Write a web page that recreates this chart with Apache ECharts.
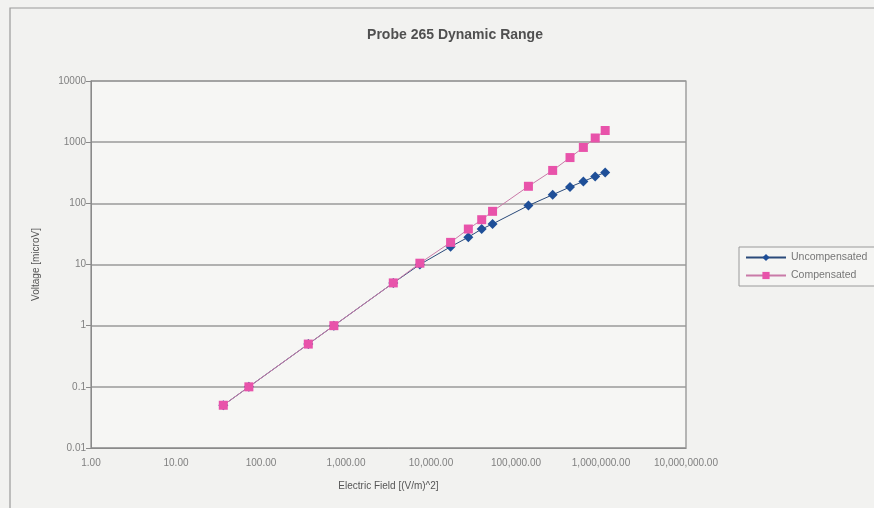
<!DOCTYPE html>
<html>
<head>
<meta charset="utf-8">
<script src="https://cdn.jsdelivr.net/npm/echarts@6/dist/echarts.min.js"></script>
<style>
html,body{margin:0;padding:0;background:#f2f2f0;}
#c{width:874px;height:508px;}
</style>
</head>
<body>
<div id="c"></div>
<script>
// Data
const fieldValues = [36, 72, 360, 720, 3600, 7400, 17000, 27500, 39500, 53000, 140000, 270000, 432000, 620000, 855000, 1120000];
const uncompensated = [0.05, 0.1, 0.5, 1, 5, 10, 19.5, 28, 38, 46, 92, 138, 185, 228, 275, 320];
const compensated = [0.05, 0.1, 0.5, 1, 5, 10.5, 23, 38, 54, 74, 190, 345, 560, 820, 1170, 1550];
const seriesNames = ['Uncompensated', 'Compensated'];
const titleText = 'Probe 265 Dynamic Range';
const xAxisName = 'Electric Field [(V/m)^2]';
const yAxisName = 'Voltage [microV]';

const pairs = (xs, ys) => xs.map((x, i) => [x, ys[i]]);
const chart = echarts.init(document.getElementById('c'));
const font = 'Liberation Sans, Arial, sans-serif';
chart.setOption({
  backgroundColor: '#f2f2f0',
  animation: false,
  title: {
    text: titleText, left: 450, top: 23, textAlign: 'center',
    textStyle: {fontFamily: font, fontSize: 14, fontWeight: 'bold', color: '#505050'}
  },
  graphic: [{
    type: 'rect', shape: {x: 10, y: 8, width: 900, height: 530},
    style: {fill: 'none', stroke: '#9a9a9a', lineWidth: 1.2}, z: 0
  }],
  legend: {
    orient: 'vertical', left: 739, top: 247, itemWidth: 40, itemHeight: 9, itemGap: 7,
    padding: [5, 20, 5, 6],
    borderColor: '#9a9a9a', borderWidth: 1, backgroundColor: '#f5f5f3',
    textStyle: {fontFamily: font, fontSize: 10.5, color: '#777'},
    data: seriesNames
  },
  grid: {
    left: 91, right: 188, top: 81, bottom: 60, show: true,
    backgroundColor: '#f6f6f4', borderColor: '#8a8a8a', borderWidth: 1.2
  },
  xAxis: {
    type: 'log', logBase: 10, min: 1, max: 10000000,
    name: xAxisName, nameLocation: 'middle', nameGap: 33,
    nameTextStyle: {fontFamily: font, fontSize: 10, color: '#555'},
    axisLine: {lineStyle: {color: '#8a8a8a'}},
    axisTick: {show: false},
    splitLine: {show: false},
    minorTick: {show: false},
    axisLabel: {
      fontFamily: font, fontSize: 10, color: '#808080', margin: 10,
      formatter: v => Number(Number(v).toPrecision(3)).toLocaleString('en-US', {minimumFractionDigits: 2, maximumFractionDigits: 2})
    }
  },
  yAxis: {
    type: 'log', logBase: 10, min: 0.01, max: 10000,
    name: yAxisName, nameLocation: 'middle', nameGap: 50, nameRotate: 90,
    nameTextStyle: {fontFamily: font, fontSize: 10, color: '#555'},
    axisLine: {show: true, lineStyle: {color: '#8a8a8a'}},
    axisTick: {show: true, length: 5, lineStyle: {color: '#8a8a8a'}},
    splitLine: {show: true, lineStyle: {color: '#9a9a9a', width: 1.6}},
    axisLabel: {
      fontFamily: font, fontSize: 10, color: '#808080', margin: 5,
      formatter: v => String(Number(Number(v).toPrecision(3)))
    }
  },
  series: [
    {
      name: seriesNames[0], type: 'line', data: pairs(fieldValues, uncompensated),
      symbol: 'diamond', symbolSize: 10,
      itemStyle: {color: '#1f4f98'},
      lineStyle: {color: '#2a4a7a', width: 1}
    },
    {
      name: seriesNames[1], type: 'line', data: pairs(fieldValues, compensated),
      symbol: 'rect', symbolSize: 9,
      itemStyle: {color: '#e853aa'},
      lineStyle: {color: '#c97aa8', width: 1}
    }
  ]
});
</script>
</body>
</html>
